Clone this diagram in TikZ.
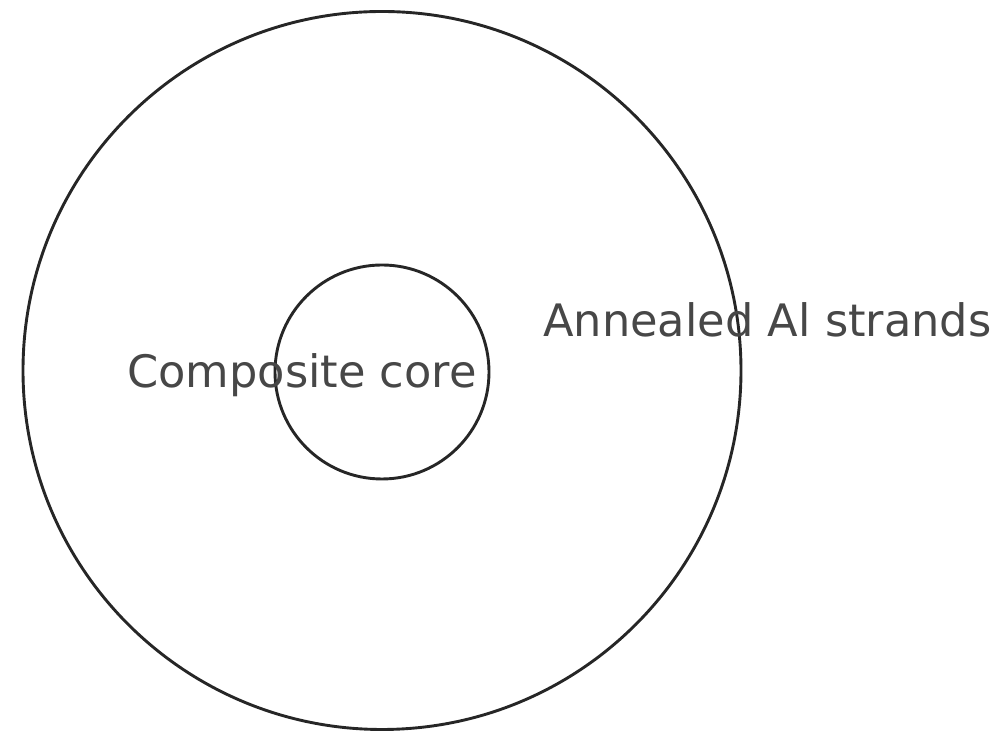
\documentclass[tikz,border=0pt]{standalone}
\usepackage{fontspec}
\setmainfont{DejaVu Sans}
\begin{document}
\begin{tikzpicture}[x=1pt,y=1pt,
  ring/.style={draw=black!85,line width=2.9pt},
  lbl/.style={text=black!72,font=\fontsize{44.7}{50}\selectfont,inner sep=0pt,anchor=base west}]
\useasboundingbox (0,0) rectangle (1002,735);
\node[ring,circle,minimum size=718pt,inner sep=0pt] (outer) at (382,364.5) {};
\node[ring,circle,minimum size=214pt,inner sep=0pt] (inner) at (382,363) {};
\node[lbl] (core) at (127,347) {Composite core};
\node[lbl] (strands) at (543,398) {Annealed Al strands};
\end{tikzpicture}
\end{document}
